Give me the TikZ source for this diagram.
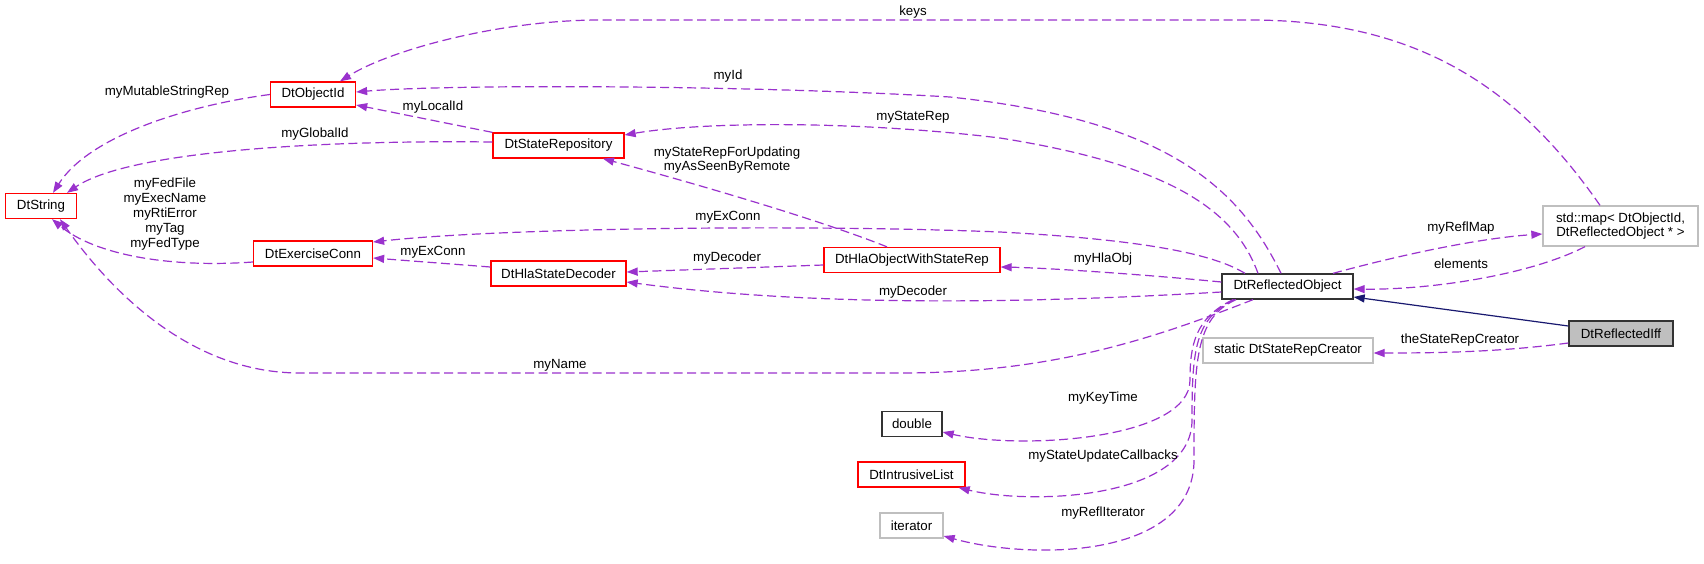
\documentclass[tikz,border=0pt]{standalone}
\usepackage{fontspec}
\setmainfont{Liberation Sans}
\usetikzlibrary{arrows.meta}
\definecolor{refc}{HTML}{9A32CD}
\definecolor{inhc}{HTML}{191970}
\definecolor{extc}{HTML}{BFBFBF}

\begin{document}
\begin{tikzpicture}[x=1pt,y=-1pt,
  font=\fontsize{13.3}{14.8}\selectfont,
  box/.style={draw, line width=1.3pt, fill=white, minimum height=25pt, inner sep=0pt, align=center},
  redbox/.style={box, draw=red},
  blackbox/.style={box, draw=black!80},
  greybox/.style={box, draw=extc},
  uses/.style={draw=refc, line width=1.2pt, dash pattern=on 9pt off 4.5pt, -{Triangle[length=11pt,width=8pt]}},
  isa/.style={draw=inhc, line width=1.2pt, -{Triangle[length=11pt,width=8pt]}},
  lbl/.style={inner sep=0pt, align=center}]

\fill[white] (0,0) rectangle (1704,563);
\useasboundingbox (0,0) rectangle (1704,563);

\node[redbox, minimum width=71pt] (11) at (41,206) {DtString};

\node[redbox, minimum width=85pt] (21) at (313,94.5) {DtObjectId};
\node[redbox, minimum width=119pt] (22) at (313,253.5) {DtExerciseConn};

\node[redbox, minimum width=131pt] (31) at (558.5,145.5) {DtStateRepository};
\node[redbox, minimum width=135pt] (32) at (558.5,273.5) {DtHlaStateDecoder};

\node[redbox, minimum width=176pt] (41) at (912,260) {DtHlaObjectWithStateRep};
\node[blackbox, minimum width=60pt] (42) at (912,424) {double};
\node[redbox, minimum width=107pt] (43) at (911.5,474.5) {DtIntrusiveList};
\node[greybox, minimum width=63pt] (44) at (911.5,525.5) {iterator};

\node[blackbox, minimum width=131pt] (51) at (1287.5,286.5) {DtReflectedObject};
\node[greybox, minimum width=170pt] (52) at (1288,350.5) {static DtStateRepCreator};

\node[greybox, minimum width=155pt, minimum height=40pt] (61) at (1620.5,226) {std::map< DtObjectId,\\ DtReflectedObject * >};
\node[blackbox, fill=extc, minimum width=104pt] (62) at (1621,333.5) {DtReflectedIff};

\draw[uses] (21.west) .. controls (190,105) and (90,135) .. ([xshift=12pt]11.north);
\draw[uses] ([yshift=3.5pt]31.west) .. controls (330,140) and (130,150) .. ([xshift=26pt]11.north);
\draw[uses] ([yshift=-8.5pt]22.west) .. controls (170,268) and (95,255) .. ([xshift=11pt]11.south);
\draw[uses] (31.north west) -- ([yshift=-10.5pt]21.east);
\draw[uses] ([xshift=-6.5pt]51.north) .. controls (1240,190) and (1170,120) .. (950,97) .. controls (750,85) and (450,84) .. ([yshift=2.5pt]21.east);
\draw[uses] ([xshift=-20.5pt]61.north) .. controls (1520,90) and (1420,20) .. (1250,20) -- (600,20) .. controls (500,20) and (390,50) .. ([xshift=27pt]21.north);
\draw[uses] ([xshift=-29.5pt]51.north) .. controls (1235,210) and (1170,165) .. (1000,138) .. controls (850,120) and (700,122) .. ([yshift=10.5pt]31.east);
\draw[uses] ([xshift=-25pt]41.north) .. controls (820,220) and (700,185) .. ([xshift=44.5pt]31.south);
\draw[uses] ([xshift=-42.5pt]51.north) .. controls (1215,255) and (1150,240) .. (1000,232) .. controls (800,224) and (500,228) .. ([yshift=11.5pt]22.east);
\draw[uses] ([yshift=6.5pt]32.west) -- ([yshift=-4.5pt]22.east);
\draw[uses] ([yshift=-5pt]41.west) -- ([yshift=1.5pt]32.east);
\draw[uses] ([yshift=4.5pt]51.west) .. controls (1150,275) and (1050,268) .. ([yshift=-7pt]41.east);
\draw[uses] ([yshift=-5.5pt]51.west) .. controls (1000,305) and (800,305) .. ([yshift=-8.5pt]32.east);
\draw[uses] ([xshift=-34.5pt]51.south) .. controls (1150,340) and (1050,373) .. (900,373) -- (300,373) .. controls (190,373) and (110,290) .. ([xshift=19pt]11.south);
\draw[uses] ([xshift=-54.5pt]51.south) .. controls (1195,318) and (1190,345) .. (1190,380) .. controls (1190,440) and (1020,450) .. ([yshift=-8pt]42.east);
\draw[uses] ([xshift=-53pt]51.south) .. controls (1195,318) and (1192,350) .. (1192,420) .. controls (1192,500) and (1030,505) .. ([xshift=-7pt]43.south east);
\draw[uses] ([xshift=-51.5pt]51.south) .. controls (1195,318) and (1194,360) .. (1194,460) .. controls (1194,560) and (1030,560) .. ([yshift=-10.5pt]44.east);
\draw[uses] ([xshift=45.5pt]51.north) .. controls (1400,255) and (1480,238) .. ([yshift=-8pt]61.west);
\draw[uses] ([xshift=-35.5pt]61.south) .. controls (1530,275) and (1430,290) .. ([yshift=-2.5pt]51.east);
\draw[isa] ([yshift=7.5pt]62.west) -- ([yshift=-10.5pt]51.east);
\draw[uses] ([yshift=-9.5pt]62.west) .. controls (1500,352) and (1440,353) .. ([yshift=-2.5pt]52.east);

\node[lbl] (keys) at (913,12) {keys};
\node[lbl] (id) at (728,76) {myId};
\node[lbl] (staterep) at (913,117) {myStateRep};
\node[lbl] (mutable) at (167,92) {myMutableStringRep};
\node[lbl] (localid) at (433,107) {myLocalId};
\node[lbl] (globalid) at (315,134) {myGlobalId};
\node[lbl] (fed) at (165,214) {myFedFile\\myExecName\\myRtiError\\myTag\\myFedType};
\node[lbl] (exconn2) at (433,252) {myExConn};
\node[lbl] (forupd) at (727,160) {myStateRepForUpdating\\myAsSeenByRemote};
\node[lbl] (exconn1) at (728,217) {myExConn};
\node[lbl] (decoder1) at (727,258) {myDecoder};
\node[lbl] (hlaobj) at (1103,259) {myHlaObj};
\node[lbl] (decoder2) at (913,292) {myDecoder};
\node[lbl] (name) at (560,365) {myName};
\node[lbl] (keytime) at (1103,398) {myKeyTime};
\node[lbl] (callbacks) at (1103,456) {myStateUpdateCallbacks};
\node[lbl] (refliter) at (1103,513) {myReflIterator};
\node[lbl] (reflmap) at (1461,228) {myReflMap};
\node[lbl] (elements) at (1461,264) {elements};
\node[lbl] (creator) at (1460,340) {theStateRepCreator};

\end{tikzpicture}
\end{document}
